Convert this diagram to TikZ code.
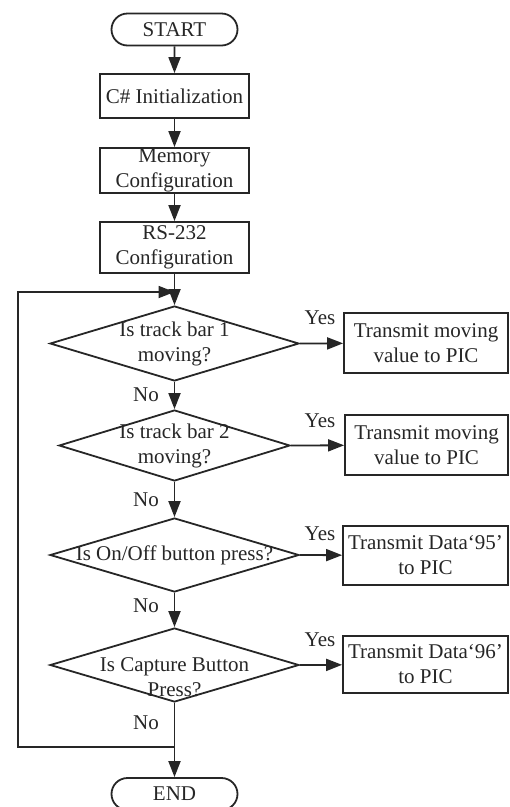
\documentclass[tikz,border=0pt]{standalone}
\usepackage{fontspec}
\setmainfont{Liberation Serif}
\usetikzlibrary{shapes.misc,shapes.geometric,arrows.meta}
\begin{document}
\begin{tikzpicture}[x=1pt,y=-1pt,
  every node/.style={font=\fontsize{21pt}{25pt}\selectfont, text=black!85},
  line/.style={draw=black!85, line width=1.8pt},
  arr/.style={line, -{Triangle[length=16pt,width=12pt]}},
  terminal/.style={line, rounded rectangle, minimum width=126pt, minimum height=32pt, inner sep=0pt},
  procbox/.style={line, rectangle, align=center, inner sep=0pt},
  decision/.style={line, diamond, inner sep=0pt},
  lbl/.style={inner sep=0pt}]
\useasboundingbox (0,0) rectangle (510,807);

% main column
\node[terminal] (start) at (174.5,29.5) {START};
\node[procbox, minimum width=149pt, minimum height=44pt] (init) at (174.5,96) {C\# Initialization};
\node[procbox, minimum width=149pt, minimum height=45pt] (mem) at (174.5,170.5) {Memory\\Configuration};
\node[procbox, minimum width=149pt, minimum height=51pt] (rs) at (174.5,247.5) {RS-232\\Configuration};

% decisions
\node[decision, minimum width=249pt, minimum height=75pt] (d1) at (174.5,343.5) {};
\node[lbl, align=center] at (d1) {Is track bar 1\\moving?};
\node[decision, minimum width=231pt, minimum height=71pt] (d2) at (174.5,445.5) {};
\node[lbl, align=center] at (d2) {Is track bar 2\\moving?};
\node[decision, minimum width=249pt, minimum height=74pt] (d3) at (174.5,555) {};
\node[lbl] at (d3) {Is On/Off button press?};
\node[decision, minimum width=249pt, minimum height=74pt] (d4) at (174.5,665) {};
\node[lbl, align=center] at (174.5,677.5) {Is Capture Button\\Press?};

% actions
\node[procbox, minimum width=164pt, minimum height=60pt] (a1) at (426,343) {Transmit moving\\value to PIC};
\node[procbox, minimum width=163pt, minimum height=60pt] (a2) at (426.5,445) {Transmit moving\\value to PIC};
\node[procbox, minimum width=165pt, minimum height=59pt] (a3) at (425.5,555.5) {Transmit Data`95'\\to PIC};
\node[procbox, minimum width=165pt, minimum height=57pt] (a4) at (425.5,664.5) {Transmit Data`96'\\to PIC};

\node[terminal] (end) at (174.5,794) {END};

% junctions of the loop
\coordinate (j1) at (174.5,292);
\coordinate (j2) at (174.5,747);
\coordinate (lb) at (18,747);
\coordinate (lt) at (18,292);

% flow
\draw[arr] (start) -- (init);
\draw[arr] (init) -- (mem);
\draw[arr] (mem) -- (rs);
\draw[arr] (rs) -- (d1.north);
\draw[arr] (d1.south) -- (d2.north);
\draw[arr] (d2.south) -- (d3.north);
\draw[arr] (d3.south) -- (d4.north);
\draw[line] (d4.south) -- (j2);
\draw[arr] (j2) -- (end);
\draw[arr] (j2) -- (lb) -- (lt) -- (j1);

\draw[arr] (d1.east) -- (a1);
\draw[arr] (d2.east) -- (a2);
\draw[arr] (d3.east) -- (a3);
\draw[arr] (d4.east) -- (a4);

% branch labels
\node[lbl] (y1) at (320,318) {Yes};
\node[lbl] (y2) at (320,421) {Yes};
\node[lbl] (y3) at (320,534) {Yes};
\node[lbl] (y4) at (320,640) {Yes};
\node[lbl] (n1) at (146,395) {No};
\node[lbl] (n2) at (146,500) {No};
\node[lbl] (n3) at (146,606) {No};
\node[lbl] (n4) at (146,723) {No};
\end{tikzpicture}
\end{document}
